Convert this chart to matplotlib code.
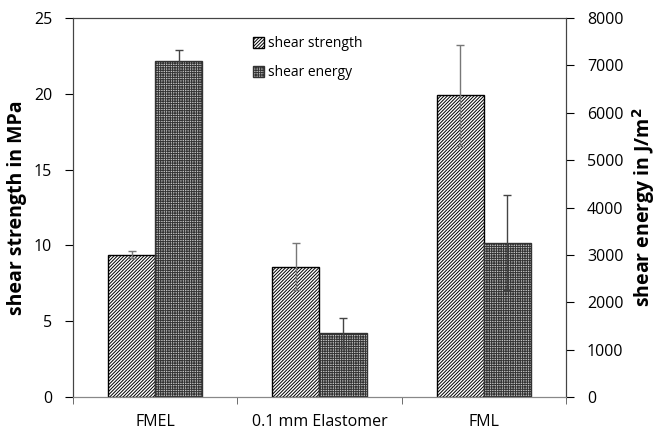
import matplotlib.pyplot as plt
import numpy as np

plt.rcParams['font.family'] = ['Open Sans', 'DejaVu Sans']
plt.rcParams['hatch.linewidth'] = 0.7

categories = ['FMEL', '0.1 mm Elastomer', 'FML']
strength = [9.4, 8.6, 19.9]          # MPa
strength_err = [0.2, 1.55, 3.35]
energy = [7100, 1350, 3260]          # J/m^2
energy_err = [230, 320, 1010]

fig = plt.figure(figsize=(6.67, 4.30), dpi=100)
ax = fig.add_axes([0.1094, 0.0767, 0.7392, 0.8813])
ax2 = ax.twinx()

x = np.arange(len(categories))
w = 0.287

ax.bar(x - w / 2, strength, w, color='white', edgecolor='black', hatch='//////////',
       linewidth=1.0, label='shear strength', zorder=2)
ax.errorbar(x - w / 2, strength, yerr=strength_err, fmt='none', ecolor='#777777',
            elinewidth=1.0, capsize=3, capthick=1.0, zorder=3)

ax2.bar(x + w / 2, energy, w, color='#c4c4c4', edgecolor='#333333', hatch='+++++++',
        linewidth=1.0, label='shear energy', zorder=2)
ax2.errorbar(x + w / 2, energy, yerr=energy_err, fmt='none', ecolor='#444444',
             elinewidth=1.0, capsize=3, capthick=1.0, zorder=3)

ax.set_xlim(-0.5, 2.5)
ax.set_ylim(0, 25)
ax2.set_ylim(0, 8000)
ax.set_yticks([0, 5, 10, 15, 20, 25])
ax2.set_yticks(range(0, 8001, 1000))

ax.set_xticks(x)
ax.set_xticklabels(categories, fontsize=11.5)
ax.set_xticks([-0.5, 0.5, 1.5, 2.5], minor=True)
ax.tick_params(axis='x', which='major', length=0, pad=12)
ax.tick_params(axis='x', which='minor', length=5, color='#555555')
ax.tick_params(axis='y', labelsize=11.5, length=6, direction='out', pad=9)
ax2.tick_params(axis='y', labelsize=11.5, length=6, direction='out', pad=9)

for a in (ax, ax2):
    a.spines['top'].set_color('#444444')
    a.spines['bottom'].set_color('#888888')
    a.spines['left'].set_color('#444444')
    a.spines['right'].set_color('#444444')

ax.set_ylabel('shear strength in MPa', fontsize=14, fontweight='bold', labelpad=5)
ax2.set_ylabel('shear energy in J/m$^\\mathbf{2}$', fontsize=14, fontweight='bold', labelpad=5)

h1, l1 = ax.get_legend_handles_labels()
h2, l2 = ax2.get_legend_handles_labels()
ax.legend(h1 + h2, l1 + l2, loc='upper left', bbox_to_anchor=(0.34, 0.985),
          frameon=False, fontsize=10, handlelength=0.8, handleheight=0.8,
          handletextpad=0.3, labelspacing=1.0)

fig.savefig('out.png', dpi=100)
